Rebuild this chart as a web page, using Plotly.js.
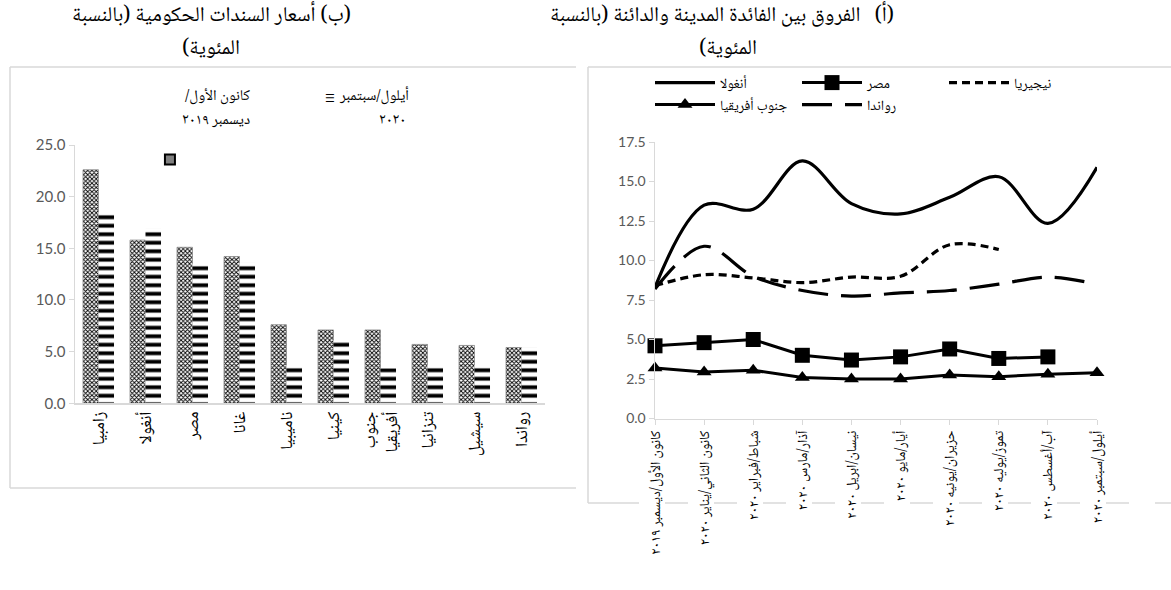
<!DOCTYPE html>
<html><head><meta charset="utf-8">
<script src="https://cdn.plot.ly/plotly-3.0.1.min.js"></script>
<style>body{margin:0;background:#fff}#c{width:1171px;height:590px}</style>
</head><body><div id="c"></div>
<script>
// ---------- data: panel (b) government bond yields ----------
const barCountries = ['زامبيا','أنغولا','مصر','غانا','ناميبيا','كينيا','جنوب<br>أفريقيا','تنزانيا','سيشيل','رواندا'];
const bondDec2019 = [22.6, 15.8, 15.1, 14.2, 7.6, 7.1, 7.1, 5.7, 5.6, 5.4];
const bondSep2020 = [18.5, 16.9, 13.5, 13.6, 3.7, 6.1, 3.4, 3.7, 3.7, 5.4];
const barSeriesNames = [['كانون الأول/', 'ديسمبر ٢٠١٩'], ['أيلول/سبتمبر', '٢٠٢٠']];
const strayMarkerX = [1.52];
const strayMarkerY = [23.6];
const barTicks = [0, 5, 10, 15, 20, 25];

// ---------- data: panel (a) interest rate spreads ----------
const months = ['كانون الأول/ديسمبر ٢٠١٩','كانون الثاني/يناير ٢٠٢٠','شباط/فبراير ٢٠٢٠','آذار/مارس ٢٠٢٠','نيسان/ابريل ٢٠٢٠','أيار/مايو ٢٠٢٠','حزيران/يونيه ٢٠٢٠','تموز/يوليه ٢٠٢٠','آب/أغسطس ٢٠٢٠','أيلول/سبتمبر ٢٠٢٠'];
const angola      = [8.3, 13.5, 13.25, 16.3, 13.6, 12.95, 14.0, 15.3, 12.35, 15.9];
const egypt       = [4.6, 4.8, 5.0, 4.0, 3.7, 3.9, 4.4, 3.8, 3.9, null];
const nigeria     = [8.4, 9.1, 8.9, 8.6, 8.95, 9.0, 11.0, 10.7, null, null];
const southAfrica = [3.2, 2.95, 3.05, 2.6, 2.5, 2.5, 2.75, 2.65, 2.8, 2.9];
const rwanda      = [8.2, 10.9, 9.0, 8.1, 7.75, 7.95, 8.1, 8.5, 8.95, 8.5];
const lineNames = ['أنغولا','مصر','نيجيريا','جنوب أفريقيا','رواندا'];

const titleB = ['(ب) أسعار السندات الحكومية (بالنسبة', 'المئوية)'];
const titleA = ['(أ)\u00A0\u00A0 الفروق بين الفائدة المدينة والدائنة (بالنسبة', 'المئوية)'];

// ---------- helpers ----------
const W = 1171, H = 590;
const px = x => x / W, py = y => 1 - y / H;
const RLM = '\u200F';
const rtl = s => s.split('<br>').map(t => RLM + t + RLM).join('<br>');
const AR = "'Noto Naskh Arabic','Amiri','Traditional Arabic','Noto Sans Arabic','DejaVu Sans',serif";
const NUM = "Lato, 'Open Sans', sans-serif";
const GREY = '#595959', AXIS = '#d9d9d9';
const idx = months.map((_, i) => i);
const bidx = barCountries.map((_, i) => i);

const traces = [
  {type:'bar', x:bidx, y:bondDec2019, name:rtl(barSeriesNames[0].join(' ')), xaxis:'x', yaxis:'y', showlegend:false,
   marker:{color:'#ffffff', line:{color:'#8c8c8c', width:0.8},
           pattern:{shape:'x', fgcolor:'#000', bgcolor:'#fff', size:3, solidity:0.5}}},
  {type:'bar', x:bidx, y:bondSep2020, name:rtl(barSeriesNames[1].join(' ')), xaxis:'x', yaxis:'y', showlegend:false,
   marker:{color:'#ffffff', line:{width:0},
           pattern:{shape:'-', fgcolor:'#000', bgcolor:'#fff', size:8.5, solidity:0.45}}},
  {type:'scatter', mode:'markers', x:strayMarkerX, y:strayMarkerY, xaxis:'x', yaxis:'y', showlegend:false, hoverinfo:'skip',
   marker:{symbol:'square', size:10, color:'#808080', line:{color:'#000', width:2}}},

  {type:'scatter', mode:'lines', x:idx, y:angola, name:rtl(lineNames[0]), xaxis:'x2', yaxis:'y2', legend:'legend',
   line:{color:'#000', width:3.2, shape:'spline', smoothing:1}, cliponaxis:false},
  {type:'scatter', mode:'lines+markers', x:idx, y:egypt, name:rtl(lineNames[1]), xaxis:'x2', yaxis:'y2', legend:'legend',
   line:{color:'#000', width:3}, marker:{symbol:'square', size:15, color:'#000'}, cliponaxis:false},
  {type:'scatter', mode:'lines', x:idx, y:nigeria, name:rtl(lineNames[2]), xaxis:'x2', yaxis:'y2', legend:'legend',
   line:{color:'#000', width:3.2, shape:'spline', smoothing:1, dash:'8px,5px'}, cliponaxis:false},
  {type:'scatter', mode:'lines+markers', x:idx, y:southAfrica, name:rtl(lineNames[3]), xaxis:'x2', yaxis:'y2', legend:'legend2',
   line:{color:'#000', width:3}, marker:{symbol:'triangle-up', size:13, color:'#000'}, cliponaxis:false},
  {type:'scatter', mode:'lines', x:idx, y:rwanda, name:rtl(lineNames[4]), xaxis:'x2', yaxis:'y2', legend:'legend2',
   line:{color:'#000', width:3.2, shape:'spline', smoothing:1, dash:'30px,13px'}, cliponaxis:false}
];

const shapes = [
  // panel (b) frame
  {type:'line', xref:'paper', yref:'paper', x0:px(10), x1:px(576), y0:py(67), y1:py(67), line:{color:AXIS, width:1.5}},
  {type:'line', xref:'paper', yref:'paper', x0:px(10), x1:px(10), y0:py(67), y1:py(488), line:{color:AXIS, width:1.5}},
  {type:'line', xref:'paper', yref:'paper', x0:px(10), x1:px(576), y0:py(488), y1:py(488), line:{color:AXIS, width:1.5}},
  // panel (a) frame
  {type:'line', xref:'paper', yref:'paper', x0:px(588), x1:px(1171), y0:py(67), y1:py(67), line:{color:AXIS, width:1.5}},
  {type:'line', xref:'paper', yref:'paper', x0:px(588), x1:px(588), y0:py(67), y1:py(503), line:{color:AXIS, width:1.5}},
  {type:'line', xref:'paper', yref:'paper', x0:px(588), x1:px(616), y0:py(503), y1:py(503), line:{color:AXIS, width:1.5}},
  {type:'line', xref:'paper', yref:'paper', x0:px(616), x1:px(1171), y0:py(503), y1:py(503), line:{color:AXIS, width:1.5, dash:'23px,26px'}}
];

const ann = (x, y, text, size, xanchor) => ({xref:'paper', yref:'paper', x:px(x), y:py(y), xanchor:xanchor || 'center',
  yanchor:'middle', showarrow:false, text:rtl(text), font:{family:AR, size:size, color:'#000'}});

const annotations = [
  ann(211, 17, titleB[0], 21), ann(211, 49, titleB[1], 21),
  ann(722, 17, titleA[0], 21), ann(728, 49, titleA[1], 21),
  // panel (b) legend
  ann(411, 97, barSeriesNames[1][0], 15, 'right'), ann(408, 121, barSeriesNames[1][1], 15, 'right'),
  ann(252, 97, barSeriesNames[0][0], 15, 'right'), ann(252, 121, barSeriesNames[0][1], 15, 'right'),
  {xref:'paper', yref:'paper', x:px(330), y:py(98), xanchor:'center', yanchor:'middle', showarrow:false,
   text:'☰', font:{family:'DejaVu Sans', size:11, color:'#000'}}
];

const legendBase = {orientation:'h', xref:'container', yref:'container', xanchor:'left', yanchor:'top',
  entrywidth:72, entrywidthmode:'pixels', itemwidth:60, font:{family:AR, size:14, color:'#000'},
  bgcolor:'rgba(0,0,0,0)', traceorder:'normal', itemclick:false};

const layout = {
  width:W, height:H, margin:{l:0, r:0, t:0, b:0, autoexpand:false}, paper_bgcolor:'#fff', plot_bgcolor:'rgba(0,0,0,0)',
  bargap:0.34, bargroupgap:0, barmode:'group', showlegend:true,
  legend:Object.assign({}, legendBase, {x:px(650), y:py(67)}),
  legend2:Object.assign({}, legendBase, {x:px(650), y:py(89)}),
  xaxis:{domain:[px(75), px(545)], range:[-0.5, 9.5], tickvals:bidx, ticktext:barCountries.map(rtl), tickangle:-90,
         showline:true, linecolor:AXIS, linewidth:1.5, ticks:'', showgrid:false, zeroline:false, automargin:false,
         tickfont:{family:AR, size:17, color:'#000'}},
  yaxis:{domain:[py(403.3), py(145)], range:[0, 25], tickvals:barTicks, tickformat:'.1f', ticks:'outside', ticklen:5,
         tickcolor:AXIS, showline:true, linecolor:AXIS, linewidth:1.5, showgrid:false, zeroline:false, automargin:false,
         tickfont:{family:NUM, size:15, color:GREY}},
  xaxis2:{anchor:'y2', domain:[px(655), px(1097)], range:[0, 9], tickvals:idx, ticktext:months.map(rtl), tickangle:-90,
          showline:true, linecolor:AXIS, linewidth:1.5, ticks:'outside', ticklen:5, tickcolor:AXIS, showgrid:false, zeroline:false,
          automargin:false, tickfont:{family:AR, size:14, color:'#000'}},
  yaxis2:{anchor:'x2', domain:[py(418.5), py(142)], range:[0, 17.5], dtick:2.5, tick0:0, tickformat:'.1f', ticks:'outside', ticklen:5,
          tickcolor:AXIS, showline:true, linecolor:AXIS, linewidth:1.5, showgrid:false, zeroline:false, automargin:false,
          tickfont:{family:NUM, size:14, color:GREY}},
  shapes:shapes, annotations:annotations
};

Plotly.newPlot('c', traces, layout, {displayModeBar:false, staticPlot:true});
</script></body></html>
